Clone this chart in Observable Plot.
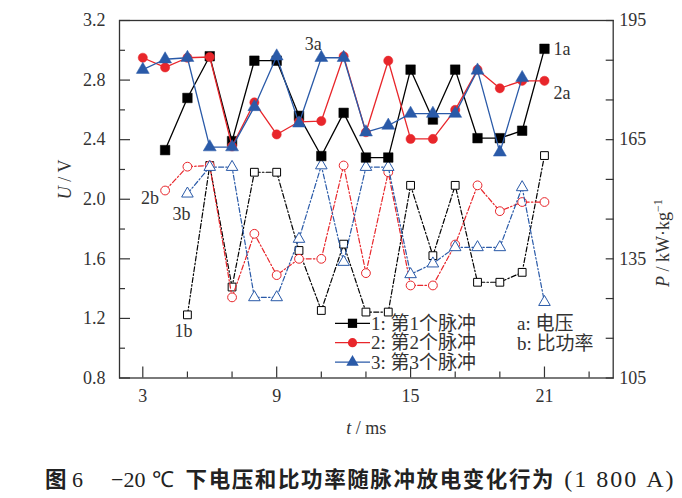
<!DOCTYPE html>
<html>
<head>
<meta charset="utf-8">
<script src="https://cdn.jsdelivr.net/npm/d3@7"></script>
<script src="https://cdn.jsdelivr.net/npm/@observablehq/plot@0.6"></script>
<style>
  body { margin: 0; background: #fff; width: 682px; height: 498px; position: relative; overflow: hidden; }
  #chart { position: absolute; left: 0; top: 0; }
  #caption { position: absolute; left: 45px; top: 458px; height: 40px; line-height: 40px; white-space: nowrap; color: #222; }
  #caption .cj { font-family: "Noto Sans CJK SC", sans-serif; font-weight: bold; font-size: 21.5px; letter-spacing: 1.6px; }
  #caption .lat { font-family: "Liberation Serif", serif; font-size: 22px; }
</style>
</head>
<body>
<div id="chart"></div>
<div id="caption"><span class="cj">图</span><span class="lat" style="margin-left:4px">6</span><span class="lat" style="margin-left:28px">−20</span><span class="lat" style="margin-left:6px">℃</span><span class="cj" style="margin-left:12px">下电压和比功率随脉冲放电变化行为</span><span class="lat" style="margin-left:9px;font-size:24px;letter-spacing:2px">(1 800 A)</span></div>
<script>
// ---- data ----
const t = [3, 4, 5, 6, 7, 8, 9, 10, 11, 12, 13, 14, 15, 16, 17, 18, 19, 20, 21];
// voltage U / V
const U1 = [null, 2.33, 2.68, 2.96, 2.39, 2.93, 2.93, 2.56, 2.29, 2.58, 2.28, 2.28, 2.87, 2.535, 2.87, 2.41, 2.41, 2.46, 3.01];
const U2 = [2.95, 2.885, 2.95, 2.955, 2.355, 2.65, 2.435, 2.52, 2.525, 2.96, 2.45, 2.93, 2.405, 2.405, 2.60, 2.87, 2.745, 2.795, 2.795];
const U3 = [2.87, 2.94, 2.95, 2.35, 2.35, 2.62, 2.96, 2.51, 2.95, 2.95, 2.45, 2.495, 2.575, 2.575, 2.575, 2.865, 2.315, 2.815, null];
// specific power P / kW·kg-1
const P1 = [null, null, 120.9, 158.5, 127.9, 156.8, 156.8, 137.1, 122.0, 138.7, 121.6, 121.6, 153.5, 135.8, 153.5, 129.1, 129.1, 131.6, 161.0];
const P2 = [null, 152.2, 158.2, 158.5, 125.3, 141.3, 130.9, 135.0, 135.0, 158.5, 131.4, 156.8, 128.3, 128.3, 138.6, 153.5, 147.0, 149.3, 149.3];
const P3 = [null, null, 151.4, 158.1, 158.1, 125.3, 125.3, 140.0, 158.5, 134.2, 158.1, 158.1, 131.1, 133.8, 137.9, 137.9, 137.9, 153.0, 124.1];

// ticks
const uMajor = [0.8, 1.2, 1.6, 2.0, 2.4, 2.8, 3.2];
const uMinor = [1.0, 1.4, 1.8, 2.2, 2.6, 3.0];
const tMajor = [3, 9, 15, 21];
const tMinor = [5, 7, 11, 13, 17, 19, 23];
const pTicks = [105, 115, 125, 135, 145, 155, 165, 175, 185, 195];
const pLabels = [105, 135, 165, 195];

const legendNames = ["1: 第1个脉冲", "2: 第2个脉冲", "3: 第3个脉冲"];
const legendKinds = ["a: 电压", "b: 比功率"];

// ---- mapping P onto the U axis (left 0.8–3.2 ↔ right 105–195) ----
const uMin = 0.8, uMax = 3.2, pMin = 105, pMax = 195;
const toU = p => uMin + (p - pMin) * (uMax - uMin) / (pMax - pMin);
const toP = u => pMin + (u - uMin) * (pMax - pMin) / (uMax - uMin);

const colors = ["#000000", "#e8262b", "#2a5aa8"];
const symbols = ["square", "circle", "triangle"];
const rFilled = [5.4, 4.6, 4.8];
const rOpen = [4.4, 4.4, 4.3];

function rows(vals, conv) {
  return t.map((x, i) => ({t: x, v: vals[i] == null ? null : conv(vals[i])})).filter(d => d.v != null);
}
const Udata = [rows(U1, v => v), rows(U2, v => v), rows(U3, v => v)];
const Pdata = [rows(P1, toU), rows(P2, toU), rows(P3, toU)];

const marks = [];
// P series (open markers, dash-dot)
Pdata.forEach((d, i) => {
  marks.push(Plot.line(d, {x: "t", y: "v", stroke: colors[i], strokeWidth: 1.2, strokeDasharray: "5,2.2,1.5,2.2"}));
  marks.push(Plot.dot(d, {x: "t", y: "v", symbol: symbols[i], r: rOpen[i], fill: "white", stroke: colors[i], strokeWidth: 1}));
});
// U series (filled markers, solid)
Udata.forEach((d, i) => {
  marks.push(Plot.line(d, {x: "t", y: "v", stroke: colors[i], strokeWidth: 1.3}));
  marks.push(Plot.dot(d, {x: "t", y: "v", symbol: symbols[i], r: rFilled[i], fill: colors[i], stroke: colors[i], strokeWidth: 0.5}));
});

// series labels anchored to data points
const labelStyle = {x: "t", y: "v", fill: "#333"};
marks.push(Plot.text(Udata[0].filter(d => d.t === 21), {...labelStyle, text: () => "1a", dx: 9, textAnchor: "start"}));
marks.push(Plot.text(Udata[1].filter(d => d.t === 21), {...labelStyle, text: () => "2a", dx: 9, dy: 12, textAnchor: "start"}));
marks.push(Plot.text(Udata[2].filter(d => d.t === 11), {...labelStyle, text: () => "3a", dx: -8, dy: -14}));
marks.push(Plot.text(Pdata[1].filter(d => d.t === 4), {...labelStyle, text: () => "2b", dx: -6, dy: 8, textAnchor: "end"}));
marks.push(Plot.text(Pdata[2].filter(d => d.t === 5), {...labelStyle, text: () => "3b", dx: -6, dy: 21}));
marks.push(Plot.text(Pdata[0].filter(d => d.t === 5), {...labelStyle, text: () => "1b", dx: -4, dy: 16}));

// axes: inward ticks
const axisColor = "#333";
marks.push(Plot.frame({stroke: axisColor, strokeWidth: 1.3}));
marks.push(Plot.axisY(uMajor, {tickSize: 11, insetLeft: 11, fill: "none", stroke: axisColor, strokeWidth: 1.2, label: null}));
marks.push(Plot.axisY(uMinor, {tickSize: 6, insetLeft: 6, fill: "none", stroke: axisColor, strokeWidth: 1.2, label: null}));
marks.push(Plot.axisY(uMajor, {tickSize: 0, tickPadding: 14, tickFormat: d3.format(".1f"), fill: "#333", label: null}));
marks.push(Plot.axisX(tMajor, {tickSize: 11, insetBottom: 11, fill: "none", stroke: axisColor, strokeWidth: 1.2, label: null}));
marks.push(Plot.axisX(tMinor, {tickSize: 6, insetBottom: 6, fill: "none", stroke: axisColor, strokeWidth: 1.2, label: null}));
marks.push(Plot.axisX(tMajor, {tickSize: 0, tickPadding: 11, tickFormat: d => String(d), fill: "#333", label: null}));
marks.push(Plot.axisY(pTicks.map(toU), {anchor: "right", tickSize: 8, insetRight: 8, fill: "none", stroke: axisColor, strokeWidth: 1.2, label: null}));
marks.push(Plot.axisY(pLabels.map(toU), {anchor: "right", tickSize: 0, tickPadding: 6, tickFormat: d => String(Math.round(toP(d))), fill: "#333", label: null}));

// axis titles
marks.push(Plot.text(["U / V"], {frameAnchor: "left", dx: -54, rotate: -90, text: d => d, fill: "#333"}));
marks.push(Plot.text(["t / ms"], {frameAnchor: "bottom", dy: 55.5, text: d => d, fill: "#333"}));
marks.push(Plot.text(["P / kW·kg-1"], {frameAnchor: "right", dx: 50, rotate: -90, text: d => d, fill: "#333"}));

const plot = Plot.plot({
  width: 682,
  height: 458,
  marginLeft: 119,
  marginRight: 69.3,
  marginTop: 20,
  marginBottom: 80.5,
  x: {domain: [1.956, 24.08]},
  y: {domain: [uMin, uMax]},
  style: {fontFamily: '"Liberation Serif", "Noto Sans CJK SC", serif', fontSize: "18px", color: "#333", background: "white", overflow: "visible"},
  marks
});
document.getElementById("chart").appendChild(plot);

// italic variable names in axis titles
const svg = d3.select(plot);
svg.selectAll("text").each(function () {
  const s = this.textContent;
  const el = d3.select(this);
  if (s === "U / V") {
    el.text(null);
    el.append("tspan").attr("font-style", "italic").text("U");
    el.append("tspan").text(" / V");
  } else if (s === "t / ms") {
    el.text(null);
    el.append("tspan").attr("font-style", "italic").text("t");
    el.append("tspan").text(" / ms");
  } else if (s === "P / kW·kg-1") {
    el.text(null);
    el.append("tspan").attr("font-style", "italic").text("P");
    el.append("tspan").text(" / kW·kg");
    el.append("tspan").attr("font-size", "12px").attr("dy", "-0.55em").text("−1");
  }
});

// legend (drawn into the same SVG)
const lg = svg.append("g")
  .attr("font-family", '"Liberation Serif", "Noto Sans CJK SC", serif')
  .attr("font-size", 19)
  .attr("text-anchor", "start");
const lgX0 = 335, lgX1 = 370, lgY0 = 323.3, lgStep = 19.4;
const symbolTypes = [d3.symbolSquare, d3.symbolCircle, d3.symbolTriangle];
const symbolSizes = [85, 66, 66];
legendNames.forEach((name, i) => {
  const y = lgY0 + i * lgStep;
  lg.append("text").attr("x", lgX1 + 1).attr("y", y).attr("dy", "0.35em").attr("fill", "#333").text(name);
  lg.append("line").attr("x1", lgX0).attr("x2", lgX1).attr("y1", y).attr("y2", y).attr("stroke", colors[i]).attr("stroke-width", 1.3);
  lg.append("path").attr("d", d3.symbol(symbolTypes[i], symbolSizes[i])()).attr("transform", `translate(${(lgX0 + lgX1) / 2},${y})`).attr("fill", colors[i]);
});
legendKinds.forEach((name, i) => {
  lg.append("text").attr("x", 517).attr("y", lgY0 + i * 20).attr("dy", "0.35em").attr("fill", "#333").text(name);
});
</script>
</body>
</html>
